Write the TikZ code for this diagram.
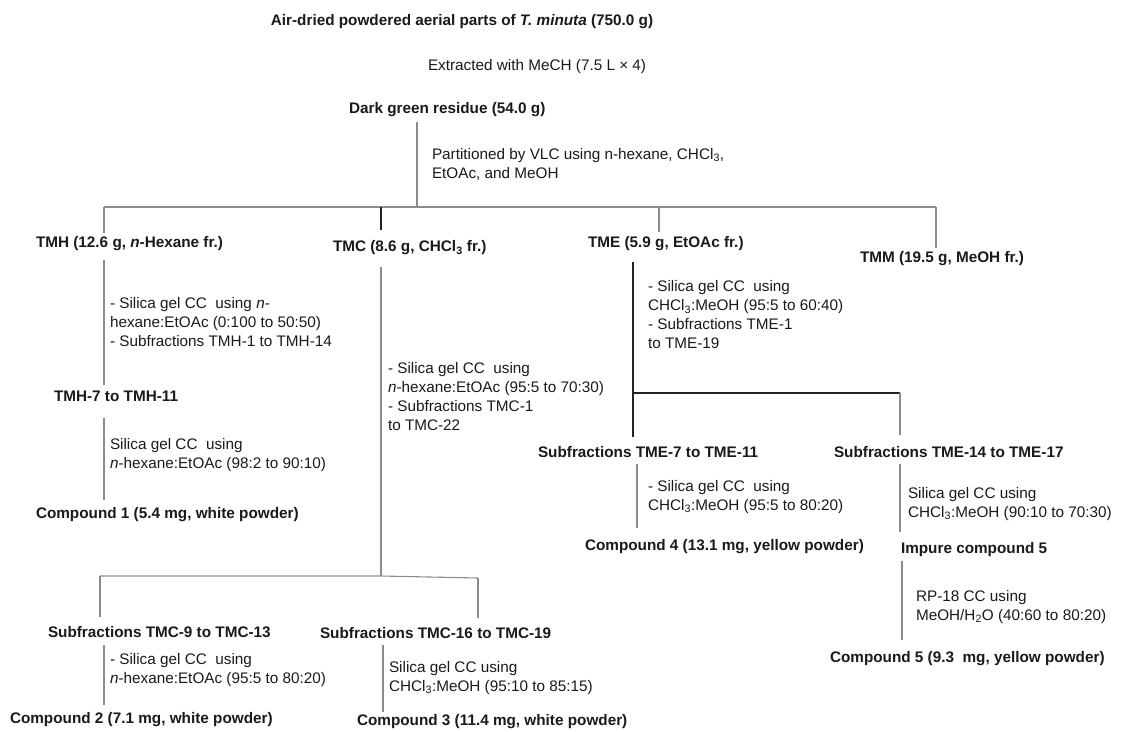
\documentclass[tikz,border=0pt]{standalone}
\usepackage{fontspec}
\setmainfont{Liberation Sans}
\definecolor{ln}{HTML}{8C8C8C}
\definecolor{lnd}{HTML}{222222}
\definecolor{tx}{HTML}{1A1A1A}
\begin{document}
\begin{tikzpicture}[x=1pt,y=-1pt,
  every node/.style={inner sep=0pt,outer sep=0pt,text=tx,font=\fontsize{15.3}{19}\selectfont},
  hd/.style={anchor=west,font=\fontsize{15.3}{19}\selectfont\bfseries},
  ds/.style={anchor=west,align=left},
  conn/.style={draw=ln,line width=1.1pt},
  connd/.style={draw=lnd,line width=1.2pt}]
\useasboundingbox[fill=white] (0,0) rectangle (1134,731);
% texts
\node[font=\fontsize{15.3}{19}\selectfont\bfseries] (title) at (462,22) {Air-dried powdered aerial parts of \textit{T. minuta} (750.0 g)};
\node[ds] (extr) at (428,67) {Extracted with MeCH (7.5 L × 4)};
\node[hd] (dark) at (349,110) {Dark green residue (54.0 g)};
\node[ds] (part) at (432,164) {Partitioned by VLC using n-hexane, CHCl\textsubscript{3},\\EtOAc, and MeOH};
\node[hd] (tmh) at (36,244) {TMH (12.6 g, \textit{n}-Hexane fr.)};
\node[hd] (tmc) at (333,248) {TMC (8.6 g, CHCl\textsubscript{3} fr.)};
\node[hd] (tme) at (588,244) {TME (5.9 g, EtOAc fr.)};
\node[hd] (tmm) at (860,259) {TMM (19.5 g, MeOH fr.)};
\node[ds] (tmhd) at (110,322) {- Silica gel CC\ \ using \textit{n}-\\hexane:EtOAc (0:100 to 50:50)\\- Subfractions TMH-1 to TMH-14};
\node[ds] (tmcd) at (388,397) {- Silica gel CC\ \ using\\\textit{n}-hexane:EtOAc (95:5 to 70:30)\\- Subfractions TMC-1\\to TMC-22};
\node[ds] (tmed) at (648,315) {- Silica gel CC\ \ using\\CHCl\textsubscript{3}:MeOH (95:5 to 60:40)\\- Subfractions TME-1\\to TME-19};
\node[hd] (tmh7) at (54,396) {TMH-7 to TMH-11};
\node[ds] (tmh7d) at (110,455) {Silica gel CC\ \ using\\\textit{n}-hexane:EtOAc (98:2 to 90:10)};
\node[hd] (c1) at (36,515) {Compound 1 (5.4 mg, white powder)};
\node[hd] (tme7) at (538,452) {Subfractions TME-7 to TME-11};
\node[hd] (tme14) at (834,452) {Subfractions TME-14 to TME-17};
\node[ds] (tme7d) at (648,497) {- Silica gel CC\ \ using\\CHCl\textsubscript{3}:MeOH (95:5 to 80:20)};
\node[ds] (tme14d) at (908,504) {Silica gel CC using\\CHCl\textsubscript{3}:MeOH (90:10 to 70:30)};
\node[hd] (c4) at (585,547) {Compound 4 (13.1 mg, yellow powder)};
\node[hd] (imp5) at (901,550) {Impure compound 5};
\node[ds] (imp5d) at (916,607) {RP-18 CC using\\MeOH/H\textsubscript{2}O (40:60 to 80:20)};
\node[hd] (c5) at (830,659) {Compound 5 (9.3\ \ mg, yellow powder)};
\node[hd] (tmc9) at (48,632) {Subfractions TMC-9 to TMC-13};
\node[hd] (tmc16) at (320,633) {Subfractions TMC-16 to TMC-19};
\node[ds] (tmc9d) at (110,670) {- Silica gel CC\ \ using\\\textit{n}-hexane:EtOAc (95:5 to 80:20)};
\node[ds] (tmc16d) at (389,678) {Silica gel CC using\\CHCl\textsubscript{3}:MeOH (95:10 to 85:15)};
\node[hd] (c2) at (10,720) {Compound 2 (7.1 mg, white powder)};
\node[hd] (c3) at (357,722) {Compound 3 (11.4 mg, white powder)};
% junction coordinates
\coordinate (d0) at (417,122);
\coordinate (b0) at (417,207);
\coordinate (bL) at (104,207);
\coordinate (bC) at (381,207);
\coordinate (bE) at (659,207);
\coordinate (bR) at (936,207);
\coordinate (hA) at (104,233);
\coordinate (cA) at (381,230);
\coordinate (eA) at (659,232);
\coordinate (mA) at (936,248);
\coordinate (h1) at (104,260);
\coordinate (h2) at (104,385);
\coordinate (c1a) at (381,267);
\coordinate (c1b) at (381,576);
\coordinate (e1) at (633,262);
\coordinate (e2) at (633,393);
\coordinate (e3) at (633,437);
\coordinate (e4) at (900,393);
\coordinate (e5) at (900,435);
\coordinate (h7a) at (104,418);
\coordinate (h7b) at (104,500);
\coordinate (t7a) at (637,464);
\coordinate (t7b) at (637,528);
\coordinate (t14a) at (900,464);
\coordinate (t14b) at (900,532);
\coordinate (i5a) at (902,561);
\coordinate (i5b) at (902,640);
\coordinate (bbL) at (100,576);
\coordinate (bbR) at (478,578);
\coordinate (bbLd) at (100,617);
\coordinate (bbRd) at (478,618);
\coordinate (c9a) at (104,645);
\coordinate (c9b) at (104,705);
\coordinate (c16a) at (383,645);
\coordinate (c16b) at (383,712);
% connectors
\draw[conn] (d0) -- (b0);
\draw[conn] (bL) -- (bR);
\draw[conn] (bL) -- (hA);
\draw[connd] (bC) -- (cA);
\draw[conn] (bE) -- (eA);
\draw[conn] (bR) -- (mA);
\draw[conn] (h1) -- (h2);
\draw[conn] (c1a) -- (c1b);
\draw[connd] (e1) -- (e3);
\draw[connd] (e2) -- (e4);
\draw[conn] (e4) -- (e5);
\draw[conn] (h7a) -- (h7b);
\draw[conn] (t7a) -- (t7b);
\draw[conn] (t14a) -- (t14b);
\draw[conn] (i5a) -- (i5b);
\draw[conn] (bbL) -- (c1b) -- (bbR);
\draw[conn] (bbL) -- (bbLd);
\draw[conn] (bbR) -- (bbRd);
\draw[conn] (c9a) -- (c9b);
\draw[conn] (c16a) -- (c16b);
\end{tikzpicture}
\end{document}
